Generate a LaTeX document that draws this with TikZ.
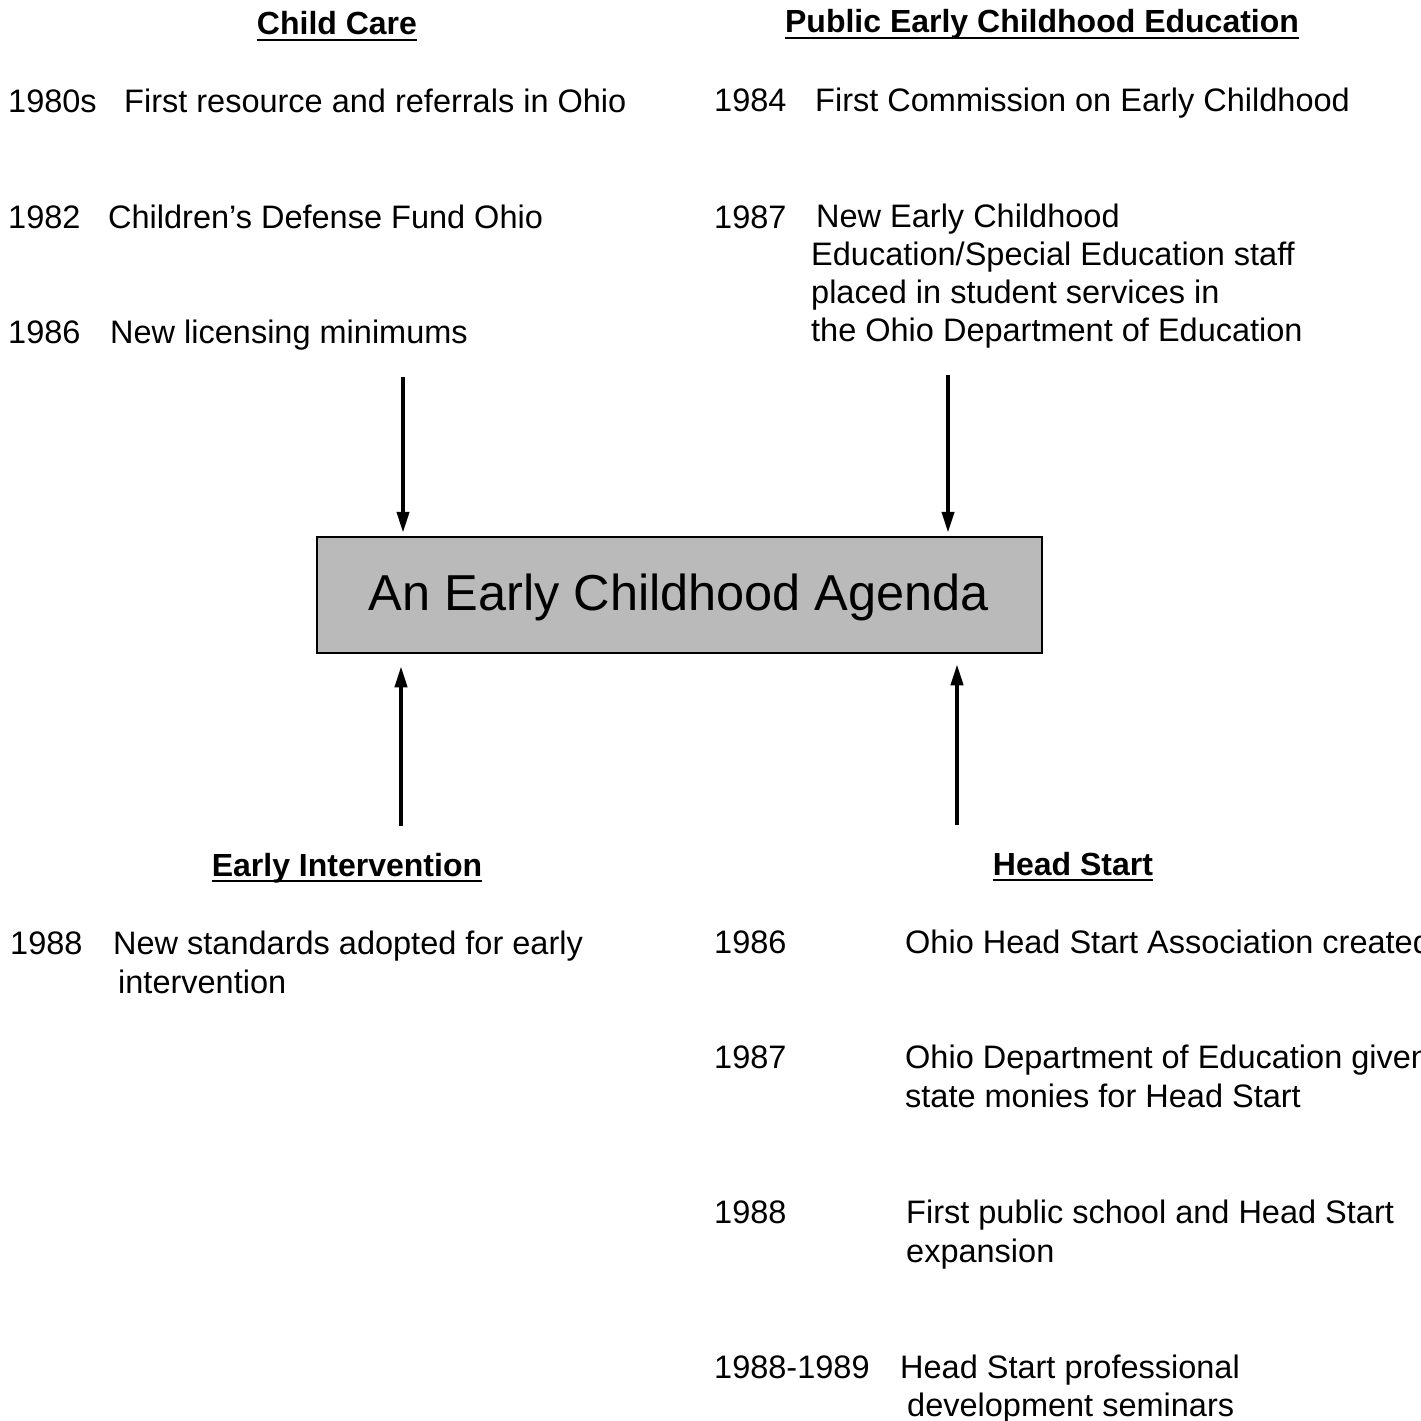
\documentclass[tikz,border=0pt]{standalone}
\usepackage{fontspec}
\setmainfont{Liberation Sans}
\usetikzlibrary{arrows.meta}
\begin{document}
\begin{tikzpicture}[x=1pt,y=-1pt,
  txt/.style={anchor=base west,inner sep=0pt,font=\fontsize{32.5}{38}\selectfont},
  head/.style={anchor=base,inner sep=0pt,font=\fontsize{32}{38}\selectfont\bfseries},
  uline/.style={line width=2pt},
  arr/.style={line width=4pt,-{Triangle[length=21pt,width=12pt]}},
  agenda/.style={draw=black,line width=2.5pt,fill=black!27,minimum width=725pt,minimum height=116pt,inner sep=0pt,font=\fontsize{50.5}{56}\selectfont}]
\useasboundingbox (0,0) rectangle (1421,1421);
\fill[white] (0,0) rectangle (1421,1421);

% headings
\node[head] (hcc) at (337,35) {Child Care};
\node[head] (hpe) at (1042,33) {Public Early Childhood Education};
\node[head] (hei) at (347,876) {Early Intervention};
\node[head] (hhs) at (1073,875) {Head Start};
\foreach \h in {hcc,hpe,hei,hhs}
  \draw[uline] ([yshift=-5pt]\h.base west) -- ([yshift=-5pt]\h.base east);

% Child Care
\node[txt] (y1) at (8,112) {1980s};
\node[txt] (t1) at (124,112) {First resource and referrals in Ohio};
\node[txt] (y2) at (8,228) {1982};
\node[txt] (t2) at (108,228) {Children’s Defense Fund Ohio};
\node[txt] (y3) at (8,343) {1986};
\node[txt] (t3) at (110,343) {New licensing minimums};

% Public Early Childhood Education
\node[txt] (y4) at (714,111) {1984};
\node[txt] (t4) at (815,111) {First Commission on Early Childhood};
\node[txt] (y5) at (714,228) {1987};
\node[txt] (t5a) at (816,227) {New Early Childhood};
\node[txt] (t5b) at (811,265) {Education/Special Education staff};
\node[txt] (t5c) at (811,303) {placed in student services in};
\node[txt] (t5d) at (811,341) {the Ohio Department of Education};

% Early Intervention
\node[txt] (y6) at (10,954) {1988};
\node[txt] (t6a) at (113,954) {New standards adopted for early};
\node[txt] (t6b) at (118,993) {intervention};

% Head Start
\node[txt] (y7) at (714,953) {1986};
\node[txt] (t7) at (905,953) {Ohio Head Start Association created};
\node[txt] (y8) at (714,1068) {1987};
\node[txt] (t8a) at (905,1068) {Ohio Department of Education given};
\node[txt] (t8b) at (905,1107) {state monies for Head Start};
\node[txt] (y9) at (714,1223) {1988};
\node[txt] (t9a) at (906,1223) {First public school and Head Start};
\node[txt] (t9b) at (906,1262) {expansion};
\node[txt] (y10) at (714,1378) {1988-1989};
\node[txt] (t10a) at (900,1378) {Head Start professional};
\node[txt] (t10b) at (907,1416) {development seminars};

% central box
\node[agenda] (box) at (679.5,595) {};
\node[anchor=base,inner sep=0pt,font=\fontsize{50.5}{56}\selectfont] (boxtext) at (679,610) {An Early Childhood Agenda};

% arrows
\coordinate (a1) at (403,377);
\coordinate (a2) at (948,375);
\coordinate (a3) at (401,826);
\coordinate (a4) at (957,825);
\draw[arr,shorten >=3pt] (a1) -- (a1 |- box.north);
\draw[arr,shorten >=3pt] (a2) -- (a2 |- box.north);
\draw[arr,shorten >=12pt] (a3) -- (a3 |- box.south);
\draw[arr,shorten >=10pt] (a4) -- (a4 |- box.south);
\end{tikzpicture}
\end{document}
